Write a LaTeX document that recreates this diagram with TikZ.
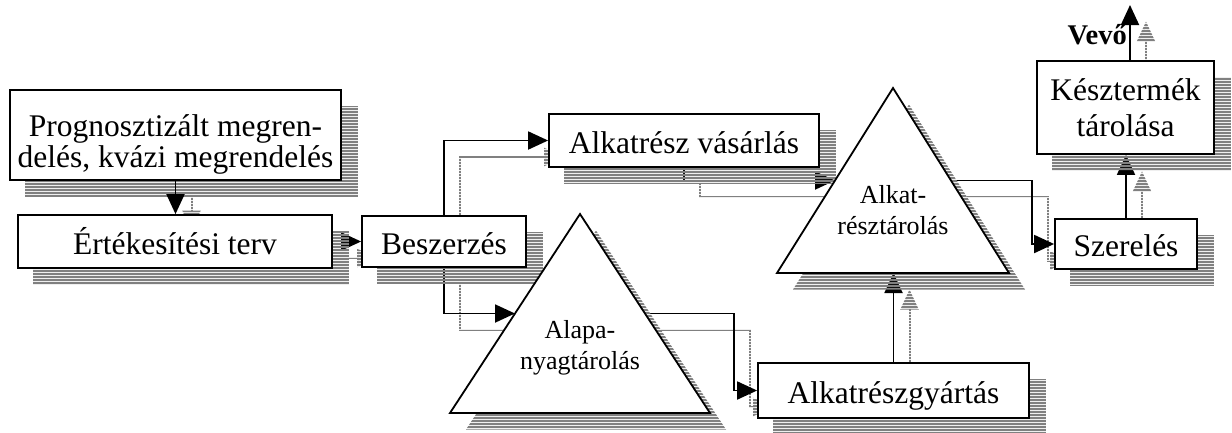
\documentclass[tikz,border=0pt]{standalone}
\usepackage{fontspec}
\setmainfont{Liberation Serif}
\usetikzlibrary{arrows.meta,calc}

% drawing order: connector shadows, connectors, shape shadows, front connectors, shapes
\pgfdeclarelayer{cshadow}
\pgfdeclarelayer{conn}
\pgfdeclarelayer{sshadow}
\pgfdeclarelayer{connfront}
\pgfsetlayers{cshadow,conn,sshadow,connfront,main}

% two centred lines, the first baseline being the reference point
\newcommand\twoline[2]{\vtop{\halign{\hfil##\hfil\cr #1\cr #2\cr}}}
% horizontal hatching used by all shadows
\newcommand\stripeclip{\clip \foreach \k in {0,...,145}{(-20,3*\k) rectangle (1260,3*\k+2)};}
% a flow connector together with its hatched shadow (optional: layer of the connector)
\newcommand\flow[2][conn]{%
  \begin{pgfonlayer}{cshadow}
    \begin{scope}
      \stripeclip
      \begin{scope}[transform canvas={xshift=16pt,yshift=-16.5pt}]
        \draw[flowshadow] #2;
      \end{scope}
    \end{scope}
  \end{pgfonlayer}
  \begin{pgfonlayer}{#1}
    \draw[flowline] #2;
  \end{pgfonlayer}}

\tikzset{
  box/.style={draw, line width=1.8pt, fill=white, inner sep=0pt,
    font=\fontsize{31.5}{30.6}\selectfont, text height=25pt, text depth=0pt},
  tri/.style={draw, line width=1.8pt, fill=white, line join=miter},
  tritext/.style={font=\fontsize{26}{31}\selectfont, anchor=base, inner sep=0pt},
  flowline/.style={line width=1.9pt, -{Triangle[length=20pt,width=18pt]}},
  flowshadow/.style={line width=2pt, gray, -{Triangle[length=20pt,width=18pt]}},
  shadowfill/.style={fill=gray},
}

\begin{document}
\begin{tikzpicture}[x=1pt,y=-1pt]
\useasboundingbox (0,0) rectangle (1232,432);

% boxes
\node[box, minimum width=331pt, minimum height=90pt, text height=3.4pt, text depth=0pt]
  (b1) at (175.5,135) {\twoline{Prognosztizált megren-}{delés, kvázi megrendelés}};
\node[box, minimum width=314pt, minimum height=53pt] (b2) at (175,241.5) {Értékesítési terv};
\node[box, minimum width=164pt, minimum height=51pt] (b3) at (444,241.5) {Beszerzés};
\node[box, minimum width=270pt, minimum height=53pt] (b4) at (684,140.5) {Alkatrész vásárlás};
\node[box, minimum width=271pt, minimum height=55pt] (b5) at (893.5,390.5) {Alkatrészgyártás};
\node[box, minimum width=142pt, minimum height=50pt] (b6) at (1126,244) {Szerelés};
\node[box, minimum width=177pt, minimum height=93pt, font=\fontsize{31.5}{36}\selectfont,
  text height=0pt, text depth=13.6pt]
  (b7) at (1125.5,107.5) {\twoline{Késztermék}{tárolása}};

% storage triangles
\coordinate (tA) at (580,214);
\coordinate (tAl) at (450,413);
\coordinate (tAr) at (710,413);
\path[tri] (tA) -- (tAl) -- (tAr) -- cycle;
\node[tritext] (tAlabel) at (580,338) {\twoline{Alapa-}{nyagtárolás}};

\coordinate (tK) at (893,88);
\coordinate (tKl) at (777,273);
\coordinate (tKr) at (1009,273);
\path[tri] (tK) -- (tKl) -- (tKr) -- cycle;
\node[tritext] (tKlabel) at (893,203) {\twoline{Alkat-}{résztárolás}};

% customer
\node[font=\bfseries\fontsize{28.5}{28.5}\selectfont, anchor=base east, inner sep=0pt]
  (vevo) at (1127,44) {Vevő};
\coordinate (buyer) at (1130,5);

% shape shadows
\begin{pgfonlayer}{sshadow}
  \begin{scope}
    \stripeclip
    \begin{scope}[transform canvas={xshift=16pt,yshift=-16.5pt}]
      \foreach \n in {b1,b2,b3,b4,b5,b6,b7}
        \fill[shadowfill] (\n.south west) rectangle (\n.north east);
      \fill[shadowfill] (tA) -- (tAl) -- (tAr) -- cycle;
      \fill[shadowfill] (tK) -- (tKl) -- (tKr) -- cycle;
    \end{scope}
  \end{scope}
\end{pgfonlayer}

% material flow
\flow[connfront]{(b1.south) -- (b1.south |- b2.north)}
\flow{(b2.east) -- (b3.west)}
\flow{(b3.north) |- (b4.west)}
\flow{(b3.south) |- ($(tA)!0.5!(tAl)$)}
\flow{($(tA)!0.5!(tAr)$) -| ([xshift=-23pt]b5.west) -- (b5.west)}
\flow{(b5.north) -- (b5.north |- tKl)}
\flow{(b4.south) |- ($(tK)!0.5!(tKl)$)}
\flow{($(tK)!0.5!(tKr)$) -| ([xshift=-22pt]b6.west) -- (b6.west)}
\flow{(b6.north) -- (b6.north |- b7.south)}
\flow{(b7.north -| buyer) -- (buyer)}
\end{tikzpicture}
\end{document}
